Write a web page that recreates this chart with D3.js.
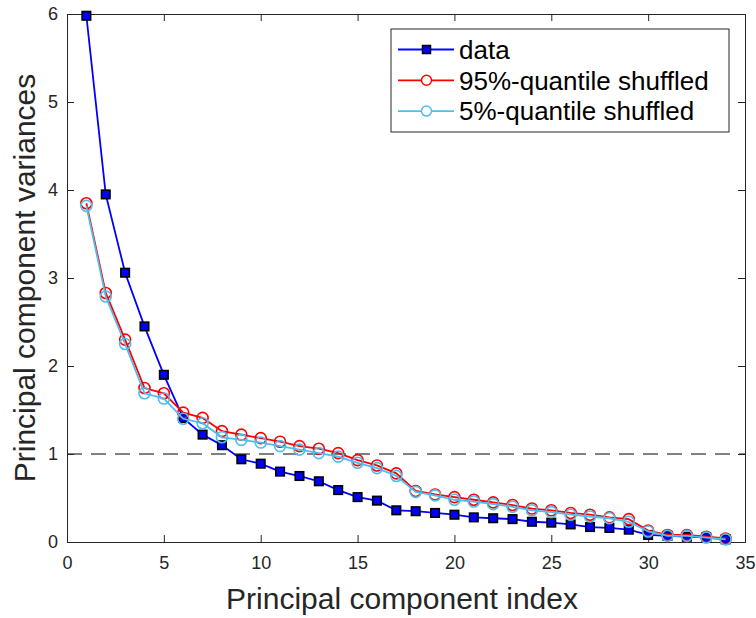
<!DOCTYPE html>
<html><head><meta charset="utf-8">
<script src="https://cdn.jsdelivr.net/npm/d3@7"></script>
<style>body{margin:0;background:#fff}svg{display:block;font-family:"Liberation Sans",Arial,sans-serif}</style>
</head><body><svg id="c" width="756" height="618"></svg>
<script>
const componentIndex = d3.range(1, 35);
const dataVariances = [5.98,3.95,3.06,2.45,1.90,1.41,1.22,1.10,0.94,0.89,0.80,0.75,0.69,0.59,0.51,0.47,0.36,0.35,0.33,0.31,0.28,0.27,0.26,0.23,0.22,0.20,0.17,0.16,0.14,0.08,0.07,0.06,0.05,0.03];
const q95Shuffled = [3.85,2.83,2.30,1.75,1.69,1.47,1.41,1.26,1.22,1.18,1.14,1.09,1.06,1.01,0.93,0.87,0.78,0.58,0.54,0.51,0.48,0.45,0.42,0.38,0.36,0.33,0.31,0.28,0.26,0.13,0.08,0.08,0.06,0.04];
const q5Shuffled = [3.82,2.79,2.25,1.69,1.63,1.40,1.35,1.19,1.16,1.13,1.09,1.05,1.01,0.97,0.90,0.84,0.75,0.57,0.53,0.48,0.46,0.43,0.40,0.36,0.34,0.31,0.29,0.27,0.23,0.12,0.07,0.07,0.05,0.03];
const xTicks = [0,5,10,15,20,25,30,35];
const yTicks = [0,1,2,3,4,5,6];
const legendLabels = ["data","95%-quantile shuffled","5%-quantile shuffled"];
const threshold = 1;

const svg = d3.select("#c");
const L=67,R=745,T=14,B=542;
const x = d3.scaleLinear().domain([0,35]).range([L,R]);
const y = d3.scaleLinear().domain([0,6]).range([B,T]);
const axisCol="#262626";
const FF="Liberation Sans, Arial, sans-serif";

// dashed threshold
svg.append("line").attr("x1",L).attr("x2",R).attr("y1",y(threshold)).attr("y2",y(threshold))
  .attr("stroke","#000").attr("stroke-width",1).attr("stroke-dasharray","15,9");

// axes
const tl=7;
const fmt = d3.format("d");
function style(g){g.select(".domain").attr("stroke",axisCol);g.selectAll("line").attr("stroke",axisCol);g.selectAll("text").attr("fill",axisCol).attr("font-size",18).attr("font-family",FF);}
svg.append("g").attr("transform",`translate(0,${B})`).call(d3.axisBottom(x).tickValues(xTicks).tickSize(-tl).tickPadding(14).tickFormat(fmt)).call(style);
svg.append("g").attr("transform",`translate(0,${T})`).call(d3.axisTop(x).tickValues(xTicks).tickSize(-tl).tickFormat("")).call(style);
svg.append("g").attr("transform",`translate(${L},0)`).call(d3.axisLeft(y).tickValues(yTicks).tickSize(-tl).tickPadding(9).tickFormat(fmt)).call(style);
svg.append("g").attr("transform",`translate(${R},0)`).call(d3.axisRight(y).tickValues(yTicks).tickSize(-tl).tickFormat("")).call(style);

// labels
svg.append("text").attr("x",(L+R)/2 - 4).attr("y",609).attr("text-anchor","middle").attr("font-size",30).attr("fill",axisCol).text("Principal component index");
svg.append("text").attr("transform",`translate(35,${(T+B)/2}) rotate(-90)`).attr("text-anchor","middle").attr("font-size",30).attr("fill",axisCol).text("Principal component variances");

const line = d3.line().x((d,i)=>x(componentIndex[i])).y(d=>y(d));
const series = [
  {vals:dataVariances,color:"#0000ff",marker:"square"},
  {vals:q95Shuffled,color:"#ff0000",marker:"circle"},
  {vals:q5Shuffled,color:"#4dbeee",marker:"circle"}
];
series.forEach(s=>{
  svg.append("path").datum(s.vals).attr("d",line).attr("fill","none").attr("stroke",s.color).attr("stroke-width",1.8);
  if(s.marker==="square"){
    svg.selectAll(null).data(s.vals).enter().append("rect")
      .attr("x",(d,i)=>x(componentIndex[i])-4.25).attr("y",d=>y(d)-4.25).attr("width",8.5).attr("height",8.5)
      .attr("fill",s.color).attr("stroke","#000").attr("stroke-width",1.6);
  } else {
    svg.selectAll(null).data(s.vals).enter().append("circle")
      .attr("cx",(d,i)=>x(componentIndex[i])).attr("cy",d=>y(d)).attr("r",5.5)
      .attr("fill","none").attr("stroke",s.color).attr("stroke-width",1.6);
  }
});

// legend
const lg = svg.append("g");
lg.append("rect").attr("x",391).attr("y",29).attr("width",338).attr("height",103).attr("fill","#fff").attr("stroke","#262626").attr("stroke-width",1);
series.forEach((s,i)=>{
  const cy = 49.5 + i*30.8;
  lg.append("line").attr("x1",398).attr("x2",454).attr("y1",cy).attr("y2",cy).attr("stroke",s.color).attr("stroke-width",1.8);
  if(s.marker==="square") lg.append("rect").attr("x",426.5-4).attr("y",cy-4).attr("width",8).attr("height",8).attr("fill",s.color).attr("stroke","#000").attr("stroke-width",1.5);
  else lg.append("circle").attr("cx",426.5).attr("cy",cy).attr("r",5).attr("fill","#fff").attr("stroke",s.color).attr("stroke-width",1.5);
  lg.append("text").attr("x",459).attr("y",cy+9.3).attr("font-size",26).attr("fill","#000").text(legendLabels[i]);
});
</script></body></html>
